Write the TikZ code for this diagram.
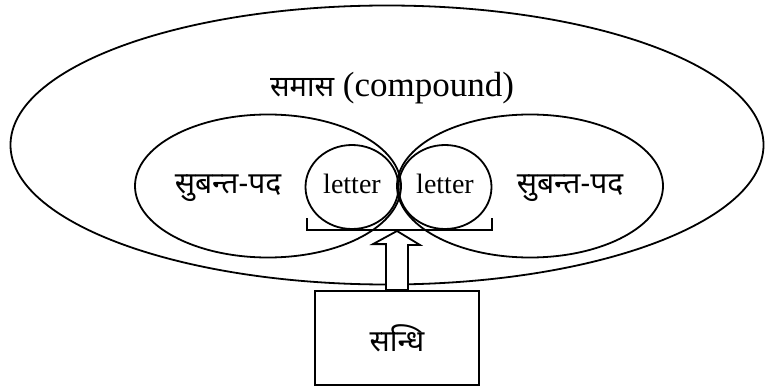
\documentclass[tikz,border=0pt]{standalone}
\usepackage{fontspec}
\setmainfont{Liberation Serif}
\newfontfamily\deva[Script=Devanagari]{Noto Sans}
\usetikzlibrary{shapes.geometric}
\begin{document}
\begin{tikzpicture}[x=1pt,y=-1pt,line width=1.8pt,
	oval/.style={draw,ellipse,inner sep=0pt},
	lettertext/.style={font=\fontsize{28}{30}\selectfont,text depth=7pt},
	devtext/.style={font=\deva\fontsize{30}{32}\selectfont}]
	\useasboundingbox (0,0) rectangle (765,390);
	
	\node[oval,minimum width=753pt,minimum height=279pt] (samas) at (387,145) {};
	\node[oval,minimum width=266pt,minimum height=143pt] (pada1) at (268,186) {};
	\node[oval,minimum width=266pt,minimum height=143pt] (pada2) at (530,186) {};
	\node[oval,minimum width=93pt,minimum height=84pt,lettertext] (let1) at (352,187) {letter};
	\node[oval,minimum width=93pt,minimum height=84pt,lettertext] (let2) at (445,187) {letter};
	
	\node[font=\fontsize{35}{38}\selectfont] (title) at (392,88) {{\deva\fontsize{29}{32}\selectfont समास} (compound)};
	\node[devtext] (sub1) at (228,188) {सुबन्त-पद};
	\node[devtext] (sub2) at (570,188) {सुबन्त-पद};
	
	\coordinate (bl) at (307,218);
	\coordinate (br) at (492,218);
	\draw (bl) |- (let1.south) -| (br);
	
	\node[draw,minimum width=164pt,minimum height=94pt,devtext] (sandhi) at (397,338) {सन्धि};
	\coordinate (tip) at (397,231);
	\draw[fill=white] (tip) -- ++(23,14) -- ++(-12,0) -- (sandhi.north -| 408,0) -- (sandhi.north -| 386,0) -- ++(0,-46) -- ++(-13,0) -- cycle;
\end{tikzpicture}
\end{document}
